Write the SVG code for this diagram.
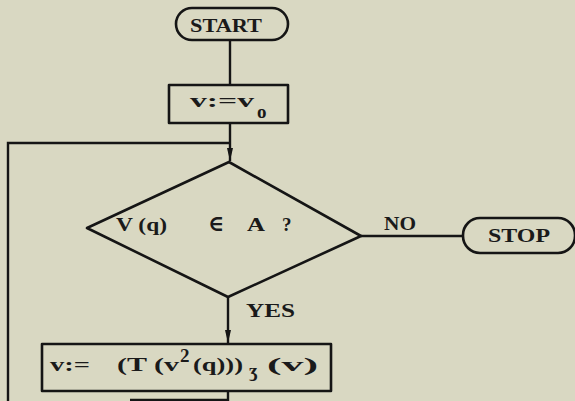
<svg xmlns="http://www.w3.org/2000/svg" width="575" height="401" viewBox="0 0 575 401">
<defs>
<style>
.sh{fill:none;stroke:#151515;stroke-width:2.6;stroke-linejoin:round}
.ln{fill:none;stroke:#151515;stroke-width:2.4}
.t{font-family:"Liberation Serif","DejaVu Serif",serif;font-weight:bold;fill:#1a1a1a;font-size:19px}
.sym{font-family:"DejaVu Serif",serif;font-weight:bold;fill:#1a1a1a;font-size:22px}
</style>
<marker id="dn" markerWidth="8" markerHeight="13" refX="4" refY="13" orient="0" markerUnits="userSpaceOnUse" viewBox="0 0 8 13">
<path d="M1,0 L7,0 L4,13 Z" fill="#151515"/>
</marker>
</defs>
<rect width="575" height="401" fill="#d9d8c2"/>
<g id="connectors">
<line class="ln" x1="230" y1="40" x2="230" y2="85"/>
<line class="ln" x1="230" y1="123" x2="230" y2="161" marker-end="url(#dn)"/>
<polyline class="ln" points="8,401 8,143 230,143"/>
<line class="ln" x1="361" y1="236" x2="463" y2="236"/>
<line class="ln" x1="228" y1="297" x2="228" y2="343" marker-end="url(#dn)"/>
<polyline class="ln" points="130,400 228,400 228,391"/>
</g>
<g id="start">
<rect class="sh" x="176" y="8" width="112" height="32" rx="16" ry="16"/>
<text class="t" x="226" y="32" text-anchor="middle" textLength="72" lengthAdjust="spacingAndGlyphs">START</text>
</g>
<g id="init">
<rect class="sh" x="169" y="85" width="119" height="38"/>
<text class="t" x="190" y="107" textLength="64" lengthAdjust="spacingAndGlyphs">v:=v</text>
<text class="t" x="257" y="118" font-size="16">o</text>
</g>
<g id="decision">
<polygon class="sh" points="229,162 361,236 228,297 87,228"/>
<text class="t" x="116" y="231" textLength="51" lengthAdjust="spacingAndGlyphs">V (q)</text>
<text class="sym" x="208" y="231">∈</text>
<text class="t" x="247" y="231" textLength="18" lengthAdjust="spacingAndGlyphs">A</text>
<text class="t" x="282" y="231">?</text>
</g>
<text class="t" x="384" y="230" textLength="32" lengthAdjust="spacingAndGlyphs">NO</text>
<text class="t" x="246" y="317" textLength="49" lengthAdjust="spacingAndGlyphs">YES</text>
<g id="stop">
<rect class="sh" x="463" y="218" width="112" height="35" rx="17" ry="17"/>
<text class="t" x="488" y="242" textLength="62" lengthAdjust="spacingAndGlyphs">STOP</text>
</g>
<g id="update">
<rect class="sh" x="42" y="344" width="289" height="47"/>
<text class="t" x="50" y="371" textLength="40" lengthAdjust="spacingAndGlyphs">v:=</text>
<text class="t" x="117" y="371" textLength="62" lengthAdjust="spacingAndGlyphs">(T (v</text>
<text class="t" x="180" y="362" font-size="17">2</text>
<text class="t" x="193" y="371" textLength="50" lengthAdjust="spacingAndGlyphs">(q)))</text>
<text class="t" x="249" y="377" font-size="13">ʒ</text>
<text class="t" x="267" y="371" textLength="51" lengthAdjust="spacingAndGlyphs">(v)</text>
</g>
</svg>
